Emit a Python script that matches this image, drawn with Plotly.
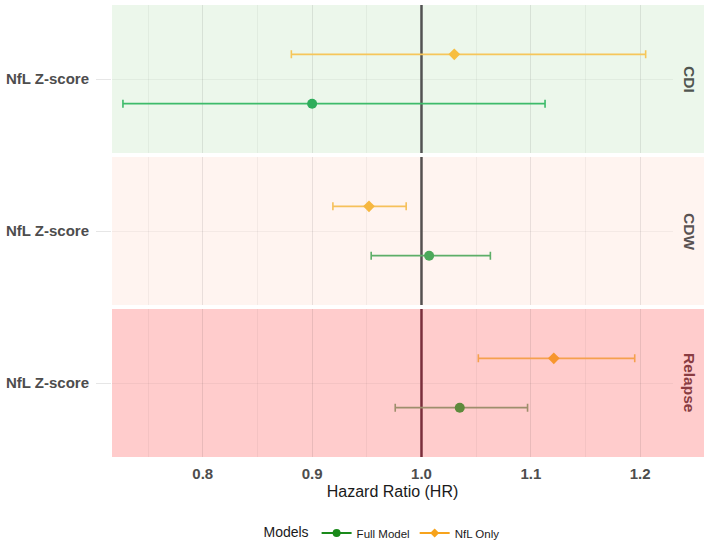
import plotly.graph_objects as go
from plotly.subplots import make_subplots

# ---- data ----
outcomes = ["CDI", "CDW", "Relapse"]
models = ["Full Model", "NfL Only"]
predictor = "NfL Z-score"

hr_full = [0.900, 1.007, 1.035]
lo_full = [0.727, 0.954, 0.976]
hi_full = [1.113, 1.063, 1.097]

hr_nfl = [1.030, 0.952, 1.121]
lo_nfl = [0.881, 0.919, 1.052]
hi_nfl = [1.205, 0.986, 1.195]

x_ticks = [0.8, 0.9, 1.0, 1.1, 1.2]
ref_line = 1.0

# ---- styles ----
bg_colors = ["#ECF7EB", "#FFF4F0", "#FFCCCC"]
full_pt = ["#2EAD5B", "#4CA85A", "#5E8A3C"]
full_bar = ["#3DBB6A", "#5DAE68", "#9E8E6C"]
nfl_pt = ["#F7BE40", "#F6B740", "#F7962E"]
nfl_bar = ["#F6C65A", "#F6C05A", "#F5A04E"]
vline_col = ["#525252", "#555050", "#7A2E3B"]
strip_col = ["#505550", "#595252", "#8A3C42"]
legend_col = ["#1A8A1A", "#F7A31C"]
grid_col = "rgba(0,0,0,0.045)"
FONT = "Liberation Sans, Arial, sans-serif"

W, H = 709, 544
ML, MR, MT, MB = 112, 36, 5, 87
plot_h = H - MT - MB
plot_w = W - ML - MR
gap = 4
ph = (plot_h - 2 * gap) / 3

fig = make_subplots(rows=3, cols=1, shared_xaxes=True)

y_nfl, y_full = 1.2, 0.8
y_lo, y_hi = 0.4, 1.6

for i, oc in enumerate(outcomes):
    r = i + 1
    # reference line at HR = 1
    fig.add_trace(go.Scatter(
        x=[ref_line, ref_line], y=[y_lo, y_hi], mode="lines",
        line=dict(color=vline_col[i], width=2.5),
        showlegend=False, hoverinfo="skip"), row=r, col=1)
    fig.add_trace(go.Scatter(
        x=[hr_full[i]], y=[y_full], mode="markers",
        marker=dict(color=full_pt[i], size=10, symbol="circle"),
        error_x=dict(type="data", symmetric=False,
                     array=[hi_full[i] - hr_full[i]],
                     arrayminus=[hr_full[i] - lo_full[i]],
                     color=full_bar[i], thickness=1.6, width=4),
        showlegend=False, hoverinfo="x"), row=r, col=1)
    fig.add_trace(go.Scatter(
        x=[hr_nfl[i]], y=[y_nfl], mode="markers",
        marker=dict(color=nfl_pt[i], size=9, symbol="diamond"),
        error_x=dict(type="data", symmetric=False,
                     array=[hi_nfl[i] - hr_nfl[i]],
                     arrayminus=[hr_nfl[i] - lo_nfl[i]],
                     color=nfl_bar[i], thickness=1.6, width=4),
        showlegend=False, hoverinfo="x"), row=r, col=1)

# legend-only traces
fig.add_trace(go.Scatter(x=[None], y=[None], mode="lines+markers", name=models[0],
                         line=dict(color=legend_col[0], width=2),
                         marker=dict(color=legend_col[0], size=8, symbol="circle")), row=3, col=1)
fig.add_trace(go.Scatter(x=[None], y=[None], mode="lines+markers", name=models[1],
                         line=dict(color=legend_col[1], width=2),
                         marker=dict(color=legend_col[1], size=7, symbol="diamond")), row=3, col=1)

shapes = []
annotations = []
for i, oc in enumerate(outcomes):
    top_px = i * (ph + gap)
    d1 = 1 - top_px / plot_h
    d0 = 1 - (top_px + ph) / plot_h
    yname = "yaxis" if i == 0 else f"yaxis{i+1}"
    xname = "xaxis" if i == 0 else f"xaxis{i+1}"
    yref = "y" if i == 0 else f"y{i+1}"
    xref = "x" if i == 0 else f"x{i+1}"
    fig.layout[yname].update(
        domain=[d0, d1], range=[y_lo, y_hi], tickvals=[1], ticktext=[predictor],
        showgrid=True, gridcolor=grid_col, gridwidth=1, zeroline=False,
        ticks="outside", ticklen=15, tickcolor="#E6E6E6", tickwidth=1,
        ticklabelstandoff=4, automargin=False,
        tickfont=dict(family=FONT, size=15, color="#4D4D4D", weight="bold"),
        showline=False, fixedrange=True)
    fig.layout[xname].update(
        range=[0.717, 1.230], tickvals=x_ticks, tickformat=".1f",
        showgrid=True, gridcolor=grid_col, gridwidth=1, zeroline=False,
        minor=dict(dtick=0.05, tick0=0.75, showgrid=True, gridcolor=grid_col, gridwidth=1),
        showticklabels=(i == 2), ticks="", ticklabelstandoff=6, automargin=False,
        tickfont=dict(family=FONT, size=15, color="#4D4D4D", weight="bold"),
        showline=False, fixedrange=True)
    shapes.append(dict(type="rect", xref=f"{xref} domain", yref=f"{yref} domain",
                       x0=0, x1=(W - 5 - ML) / plot_w, y0=0, y1=1,
                       fillcolor=bg_colors[i], line=dict(width=0), layer="below"))
    annotations.append(dict(text=oc, xref=f"{xref} domain", yref=f"{yref} domain",
                            x=1 + 17 / plot_w, y=0.5, xanchor="center", yanchor="middle",
                            textangle=90, showarrow=False,
                            font=dict(family=FONT, size=15.5, color=strip_col[i], weight="bold")))

fig.update_layout(
    width=W, height=H,
    margin=dict(l=ML, r=MR, t=MT, b=MB, autoexpand=False),
    paper_bgcolor="white", plot_bgcolor="rgba(0,0,0,0)",
    font=dict(family=FONT, color="#1A1A1A"),
    shapes=shapes, annotations=annotations,
    showlegend=True,
    legend=dict(orientation="h", x=0.483, xanchor="center", y=-76 / plot_h, yanchor="middle",
                title=dict(text="Models", side="left", font=dict(family=FONT, size=14, color="#1A1A1A")),
                font=dict(family=FONT, size=11.5, color="#1A1A1A"),
                itemwidth=30, bgcolor="rgba(0,0,0,0)"),
)
fig.update_xaxes(title_text="Hazard Ratio (HR)", title_standoff=4,
                 title_font=dict(family=FONT, size=16, color="#1A1A1A"), row=3, col=1)

fig.write_html("out.html")
